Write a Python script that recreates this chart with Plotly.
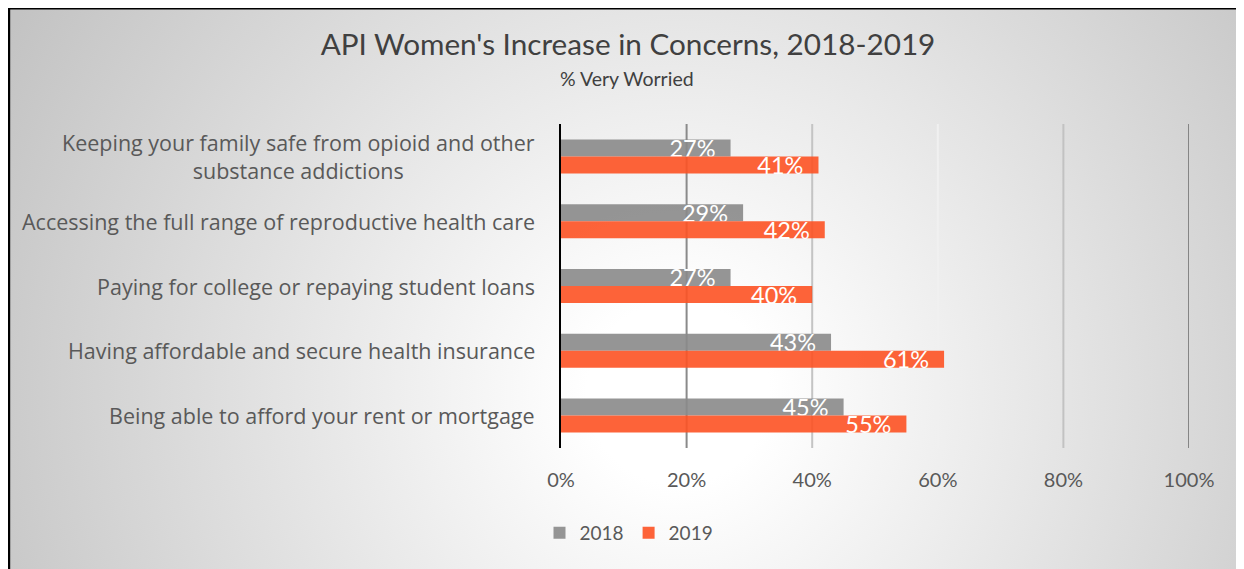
import base64
import plotly.graph_objects as go

# ---- data ----
categories = [
    "Keeping your family safe from opioid and other<br>substance addictions",
    "Accessing the full range of reproductive health care",
    "Paying for college or repaying student loans",
    "Having affordable and secure health insurance",
    "Being able to afford your rent or mortgage",
]
values_2018 = [27, 29, 27, 43, 45]
values_2019 = [41, 42, 40, 61, 55]
series_names = ["2018", "2019"]
tick_values = [0, 20, 40, 60, 80, 100]
tick_labels = ["0%", "20%", "40%", "60%", "80%", "100%"]

title_text = "API Women's Increase in Concerns, 2018-2019"
subtitle_text = "% Very Worried"

# ---- geometry (screen px; page body has an 8px margin) ----
OFF = 8
SW, SH = 1244, 569
W, H = SW - OFF, SH - OFF
L, R, T, B = 561 - OFF, 1189 - OFF, 124 - OFF, 448 - OFF
pw, ph = R - L, B - T


def px_x(sx):
    return (sx - OFF - L) / pw


def px_y(sy):
    return (B - (sy - OFF)) / ph


FONT = "Lato"
LBL_FONT = "Open Sans"
LBL_SIZE = 21.5
TXT = "#595959"

gray = "rgba(137,137,137,0.9)"
orange = "rgba(253,82,35,0.9)"

fig = go.Figure()
for name, vals, col in [(series_names[0], values_2018, gray), (series_names[1], values_2019, orange)]:
    fig.add_trace(go.Bar(
        name=name,
        y=categories,
        x=vals,
        orientation="h",
        marker=dict(color=col, line=dict(width=0)),
        text=[f"{v}%\u00a0\u00a0" for v in vals],
        textposition="inside",
        insidetextanchor="end",
        constraintext="none",
        textfont=dict(family=FONT, size=23.5, color="white"),
        hoverinfo="skip",
    ))

# background radial gradient
svg = f"""<svg xmlns='http://www.w3.org/2000/svg' width='{W}' height='{H}' viewBox='0 0 {W} {H}'>
<defs><radialGradient id='g' gradientUnits='userSpaceOnUse' cx='670' cy='385' r='760'>
<stop offset='0' stop-color='#ffffff'/><stop offset='0.12' stop-color='#ffffff'/>
<stop offset='1' stop-color='#c3c3c3'/></radialGradient></defs>
<rect width='{W}' height='{H}' fill='url(#g)'/></svg>"""
src = "data:image/svg+xml;base64," + base64.b64encode(svg.encode()).decode()

fig.add_layout_image(dict(
    source=src, xref="paper", yref="paper",
    x=px_x(OFF), y=px_y(OFF), sizex=W / pw, sizey=H / ph,
    xanchor="left", yanchor="top", sizing="stretch", layer="below",
))

# gridlines
grid_colors = ["#000000", "#8a8a8a", "#c4c4c4", "#f0f0f0", "#c2c2c2", "#858585"]
shapes = []
for tv, gc in zip(tick_values[1:], grid_colors[1:]):
    shapes.append(dict(type="line", xref="x", yref="paper", x0=tv, x1=tv, y0=0, y1=1,
                       line=dict(color=gc, width=2), layer="below"))
# frame lines of the picture
shapes.append(dict(type="line", xref="paper", yref="paper", x0=px_x(OFF), x1=px_x(SW + 5),
                   y0=px_y(OFF + 0.5), y1=px_y(OFF + 0.5), line=dict(color="black", width=2), layer="above"))
shapes.append(dict(type="line", xref="paper", yref="paper", x0=px_x(OFF + 0.7), x1=px_x(OFF + 0.7),
                   y0=px_y(OFF), y1=px_y(SH + 5), line=dict(color="black", width=3), layer="above"))

# category labels, lines centred within each label block
annotations = []
for c in categories:
    annotations.append(dict(
        xref="paper", yref="y", x=0, y=c, xanchor="right", yanchor="middle",
        xshift=-24, text=c, showarrow=False, align="center",
        font=dict(family=LBL_FONT, size=LBL_SIZE, color=TXT),
    ))
annotations.append(dict(
    xref="paper", yref="paper", x=px_x(627), y=px_y(78), xanchor="center", yanchor="middle",
    text=subtitle_text, showarrow=False, font=dict(family=FONT, size=19.5, color="#404040"),
))

fig.update_layout(
    width=W, height=H,
    margin=dict(l=L, r=W - R, t=T, b=H - B, pad=0),
    paper_bgcolor="rgba(0,0,0,0)",
    plot_bgcolor="rgba(0,0,0,0)",
    title=dict(text=title_text, x=(628 - OFF) / W, xanchor="center", y=1 - (45 - OFF) / H,
               yanchor="middle", xref="container", yref="container",
               font=dict(family=FONT, size=29.7, color="#404040")),
    barmode="group",
    bargap=0.475,
    bargroupgap=0,
    showlegend=True,
    legend=dict(orientation="h", x=px_x(629), xanchor="center", y=px_y(533), yanchor="middle",
                font=dict(family=FONT, size=19, color=TXT), traceorder="normal",
                bgcolor="rgba(0,0,0,0)", itemclick=False),
    xaxis=dict(range=[0, 100], tickvals=tick_values, ticktext=tick_labels, showgrid=False,
               zeroline=False, showline=False, ticks="", ticklabelstandoff=18,
               tickfont=dict(family=FONT, size=20, color=TXT), fixedrange=True),
    yaxis=dict(autorange="reversed", showticklabels=False, showgrid=False, zeroline=False,
               showline=True, linecolor="black", linewidth=2, ticks="", fixedrange=True),
    shapes=shapes,
    annotations=annotations,
    font=dict(family=FONT),
)

fig.write_html("out.html")
